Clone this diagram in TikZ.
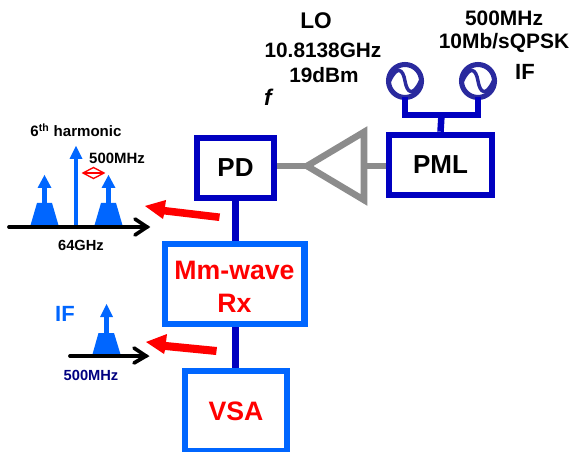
\documentclass[tikz,border=0pt]{standalone}
\usepackage{fontspec}
\setmainfont{Liberation Sans}
\definecolor{pdblue}{HTML}{0000C0}
\definecolor{rxblue}{HTML}{0066FF}
\definecolor{oscblue}{HTML}{2A2A9E}
\definecolor{ampgray}{HTML}{8C8C8C}
\definecolor{navytext}{HTML}{000080}
\tikzset{
    block/.style={draw, line width=4.9pt, inner sep=0pt, font=\bfseries\fontsize{19.5}{24}\selectfont},
    lbl/.style={inner sep=0pt, align=center, font=\bfseries\fontsize{#1}{#1}\selectfont},
    lbl/.default=11,
    bluelink/.style={draw=pdblue, line width=4.9pt},
    graylink/.style={draw=ampgray, line width=4.9pt},
    tone/.style={fill=rxblue, draw=none},
    toneline/.style={draw=rxblue, line width=3.4pt},
    axisline/.style={draw=black, line width=2.8pt, line cap=round},
    redarrow/.style={fill=red, draw=none},
    osc/.style={circle, draw=oscblue, line width=3.8pt, minimum size=33pt*0.75, inner sep=0pt, outer sep=0pt}
}
\begin{document}
\begin{tikzpicture}[x=0.75pt, y=-0.75pt]
    \useasboundingbox (0, 0) rectangle (571, 452);

    % Draw the blocks
    \node[block, draw=pdblue, minimum width=58pt, minimum height=45pt] (pd) at (235.5, 168) {PD};
    \node[block, draw=pdblue, minimum width=77pt, minimum height=45pt] (pml) at (440.5, 165) {PML};
    \node[block, draw=rxblue, text=red, align=center, font=\bfseries\fontsize{20}{25}\selectfont, minimum width=104.6pt, minimum height=59.7pt] (rx) at (234.5, 284) {\raisebox{0pt}[18.2pt]{Mm-wave}\\Rx};
    \node[block, draw=rxblue, text=red, font=\bfseries\fontsize{20}{24}\selectfont, minimum width=76.5pt, minimum height=60pt] (vsa) at (236, 411) {VSA};

    % Draw the oscillators
    \node[osc] (loosc) at (405, 81) {};
    \node[osc] (ifosc) at (478, 81) {};
    \foreach \oscname in {loosc, ifosc} {
        \draw[draw=oscblue, line width=2.6pt] ([xshift=-11.5pt]\oscname.center) .. controls ([xshift=-6pt, yshift=12pt]\oscname.center) and ([xshift=-1.5pt, yshift=9pt]\oscname.center) .. (\oscname.center) .. controls ([xshift=1.5pt, yshift=-9pt]\oscname.center) and ([xshift=6pt, yshift=-12pt]\oscname.center) .. ([xshift=11.5pt]\oscname.center);
    }

    % Draw the links
    \coordinate (busjoin) at (441.5, 115);
    \draw[bluelink] (loosc.south) |- (busjoin) -| (ifosc.south);
    \draw[bluelink] (busjoin) -- (pml.north);
    \draw[bluelink] (pd.south) -- (pd.south |- rx.north);
    \draw[bluelink] (pd.south |- rx.south) -- (pd.south |- vsa.north);

    % Draw the amplifier
    \coordinate (amptip) at (307, 166);
    \coordinate (amptop) at (364, 132);
    \coordinate (ampbot) at (364, 200);
    \draw[graylink, line join=miter] (amptip) -- (amptop) -- (ampbot) -- cycle;
    \draw[graylink] (pd.east |- amptip) -- (amptip);
    \draw[graylink] (pml.west |- amptip) -- (amptop |- amptip);

    % Draw the upper spectrum
    \coordinate (upaxisl) at (9, 227);
    \coordinate (upaxisr) at (147, 227);
    \foreach \tonex in {44.5, 108.5} {
        \fill[tone] (\tonex-14.5, 227) -- (\tonex-7.5, 203) -- (\tonex+7.5, 203) -- (\tonex+14.5, 227) -- cycle;
        \draw[toneline] (\tonex, 204) -- (\tonex, 187);
        \fill[tone] (\tonex-7, 188) -- (\tonex, 175) -- (\tonex+7, 188) -- cycle;
    }
    \draw[toneline] (76, 227) -- (76, 158);
    \fill[tone] (69.5, 159) -- (76, 146) -- (82.5, 159) -- cycle;
    \draw[axisline] (upaxisl) -- (upaxisr);
    \draw[axisline, line join=miter] (135, 219) -- (147, 227) -- (135, 235);

    % Draw the spacing mark
    \draw[red, line width=1pt] (83, 173) -- (93.5, 167.5) -- (104, 173) -- (93.5, 178.5) -- cycle;
    \draw[red, line width=1pt] (83, 173) -- (104, 173);

    % Draw the lower spectrum
    \coordinate (lowaxisl) at (70, 356);
    \coordinate (lowaxisr) at (146, 356);
    \fill[tone] (92, 356) -- (98.5, 333) -- (114, 333) -- (121, 356) -- cycle;
    \draw[toneline] (106.5, 334) -- (106.5, 316);
    \fill[tone] (100, 317) -- (106.5, 304) -- (113, 317) -- cycle;
    \draw[axisline] (lowaxisl) -- (lowaxisr);
    \draw[axisline, line join=miter] (134, 348) -- (146, 356) -- (134, 363);

    % Draw the red arrows
    \fill[redarrow] (145, 206) -- (166, 200) -- (165, 207) -- (220, 213.5) -- (219, 221) -- (164, 214.5) -- (163, 219) -- cycle;
    \fill[redarrow] (146, 342) -- (167, 334) -- (166, 342) -- (217, 347) -- (216, 355) -- (165, 350) -- (164, 354) -- cycle;

    % Add the labels
    \node[lbl=17] (lolabel) at (316, 21) {LO};
    \node[lbl=15.6] (lofreq) at (323, 50) {10.8138GHz};
    \node[lbl=15.6] (lopower) at (324, 75) {19dBm};
    \node[lbl=17, font=\bfseries\itshape\fontsize{17}{17}\selectfont] (flabel) at (268, 97) {f};
    \node[lbl=15.7] (iffreq) at (504, 18) {500MHz};
    \node[lbl=15.7] (ifrate) at (504, 43) {10Mb/sQPSK};
    \node[lbl=16.5] (iflabel) at (525, 72) {IF};
    \node[lbl=11.3] (harmlabel) at (76, 130) {6\textsuperscript{th} harmonic};
    \node[lbl=11.2] (spacelabel) at (117, 158) {500MHz};
    \node[lbl=11] (rflabel) at (81, 245) {64GHz};
    \node[lbl=16.5, text=rxblue] (lowif) at (65, 314) {IF};
    \node[lbl=11, text=navytext] (lowfreq) at (91, 375) {500MHz};
\end{tikzpicture}
\end{document}
